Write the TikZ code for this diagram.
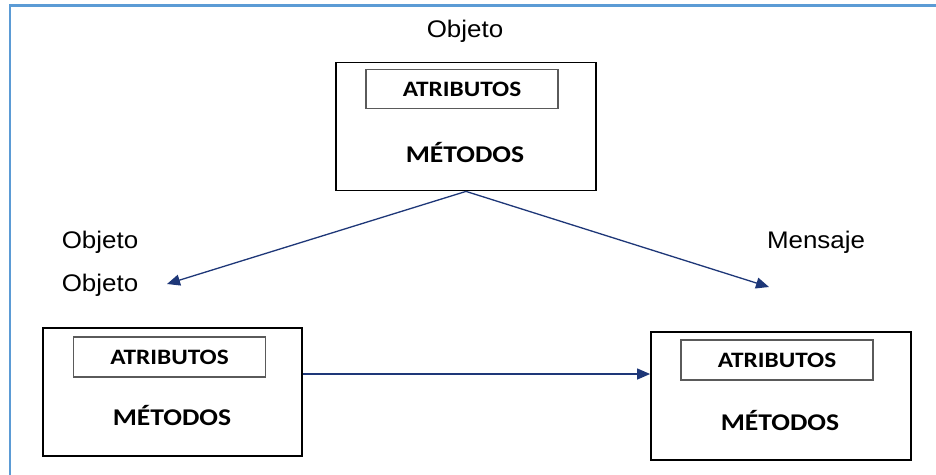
\documentclass[tikz,border=0pt]{standalone}
\usepackage{fontspec}
\setmainfont{Liberation Sans}[FakeStretch=1.08]
\newfontfamily\calfont{Carlito}[FakeStretch=1.15]
\usetikzlibrary{arrows.meta}
\definecolor{framblue}{RGB}{91,155,213}
\definecolor{arrblue}{RGB}{30,55,120}
\definecolor{innergray}{RGB}{90,90,90}
\tikzset{
  objbox/.style={draw=black, line width=1.8pt, minimum width=260pt, minimum height=128pt, inner sep=0pt},
  attrbox/.style={draw=innergray, line width=1.1pt, minimum width=192pt, minimum height=39pt, inner sep=0pt,
    font=\calfont\bfseries\fontsize{22}{26}\selectfont},
  methtext/.style={font=\calfont\bfseries\fontsize{24}{28}\selectfont, inner sep=0pt},
  lbl/.style={font=\fontsize{24}{28}\selectfont, inner sep=0pt},
  msg/.style={draw=arrblue, line width=1.3pt, -{Triangle[length=13pt,width=11pt]}}
}
\begin{document}
\begin{tikzpicture}[x=1pt,y=-1pt]
\useasboundingbox (0,0) rectangle (936,474);
\fill[white] (0,0) rectangle (936,474);
\draw[framblue, line width=2.6pt] (10,480) -- (10,5.5) -- (940,5.5);
% boxes
\node[objbox] (top) at (466,126.5) {};
\node[objbox, minimum width=259pt] (left) at (172.5,392) {};
\node[objbox] (right) at (781,396) {};
\node[attrbox] (topa) at (462,89) {ATRIBUTOS};
\node[attrbox, minimum height=40pt] (lefta) at (169.5,357) {ATRIBUTOS};
\node[attrbox, minimum height=40pt] (righta) at (777,360) {ATRIBUTOS};
\node[methtext] (topm) at (465,153) {MÉTODOS};
\node[methtext] (leftm) at (172,415) {MÉTODOS};
\node[methtext] (rightm) at (780,420) {MÉTODOS};
% labels
\node[lbl] (l1) at (465,31) {Objeto};
\node[lbl] (l2) at (100,242) {Objeto};
\node[lbl] (l3) at (100,285) {Objeto};
\node[lbl] (l4) at (816,242) {Mensaje};
% connectors
\coordinate (endl) at (167,284);
\coordinate (endr) at (769,287);
\draw[msg] (top.south) -- (endl);
\draw[msg] (top.south) -- (endr);
\draw[msg] ([yshift=18pt]left.east) -- ([yshift=22pt]right.west);
\end{tikzpicture}
\end{document}
